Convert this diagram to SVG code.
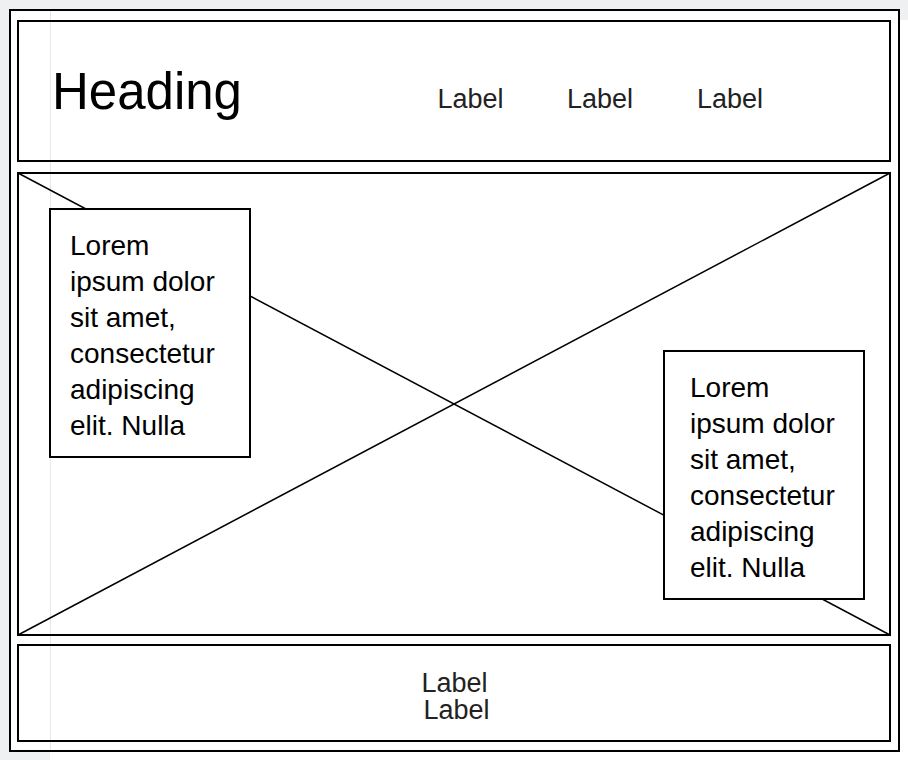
<svg xmlns="http://www.w3.org/2000/svg" width="908" height="760" viewBox="0 0 908 760">
<style>
.box{fill:none;stroke:#000;stroke-width:2}
.card{fill:#fff;stroke:#000;stroke-width:2}
.t{font-family:"Liberation Sans",Arial,sans-serif;fill:#000}
.lbl{font-family:"Liberation Sans",Arial,sans-serif;font-size:27px;fill:#222;text-anchor:middle}
.lorem{font-size:28px}
</style>
<rect x="0" y="0" width="908" height="760" fill="#fff"/>
<rect x="0" y="0" width="908" height="20" fill="#eff0f2"/>
<rect x="0" y="0" width="50" height="760" fill="#eff0f2"/>
<g id="frame">
<rect x="10" y="10" width="889" height="741" fill="#fff" stroke="#000" stroke-width="2"/>
<line x1="50.5" y1="11" x2="50.5" y2="750" stroke="#e6e7e9" stroke-width="1"/>
</g>
<g id="header">
<rect class="box" x="18" y="21" width="872" height="140"/>
<text class="t" x="52" y="108.5" font-size="51">Heading</text>
<text class="lbl" x="470.5" y="107.5">Label</text>
<text class="lbl" x="600" y="107.5">Label</text>
<text class="lbl" x="730" y="107.5">Label</text>
</g>
<g id="image">
<rect class="box" x="18" y="173" width="872" height="462"/>
</g>
<g id="connectors">
<line x1="18" y1="173" x2="890" y2="635" stroke="#000" stroke-width="1.5"/>
<line x1="18" y1="635" x2="890" y2="173" stroke="#000" stroke-width="1.5"/>
</g>
<g id="textbox-left">
<rect class="card" x="50" y="209" width="200" height="248"/>
<text class="t lorem" x="70" y="255">
<tspan x="70" y="255">Lorem</tspan>
<tspan x="70" y="291">ipsum dolor</tspan>
<tspan x="70" y="327">sit amet,</tspan>
<tspan x="70" y="363">consectetur</tspan>
<tspan x="70" y="399">adipiscing</tspan>
<tspan x="70" y="435">elit. Nulla</tspan>
</text>
</g>
<g id="textbox-right">
<rect class="card" x="664" y="351" width="200" height="248"/>
<text class="t lorem" x="690" y="397">
<tspan x="690" y="397">Lorem</tspan>
<tspan x="690" y="433">ipsum dolor</tspan>
<tspan x="690" y="469">sit amet,</tspan>
<tspan x="690" y="505">consectetur</tspan>
<tspan x="690" y="541">adipiscing</tspan>
<tspan x="690" y="577">elit. Nulla</tspan>
</text>
</g>
<g id="footer">
<rect class="box" x="18" y="645" width="872" height="96"/>
<text class="lbl" x="454.5" y="691.5">Label</text>
<text class="lbl" x="456.5" y="719">Label</text>
</g>
</svg>
